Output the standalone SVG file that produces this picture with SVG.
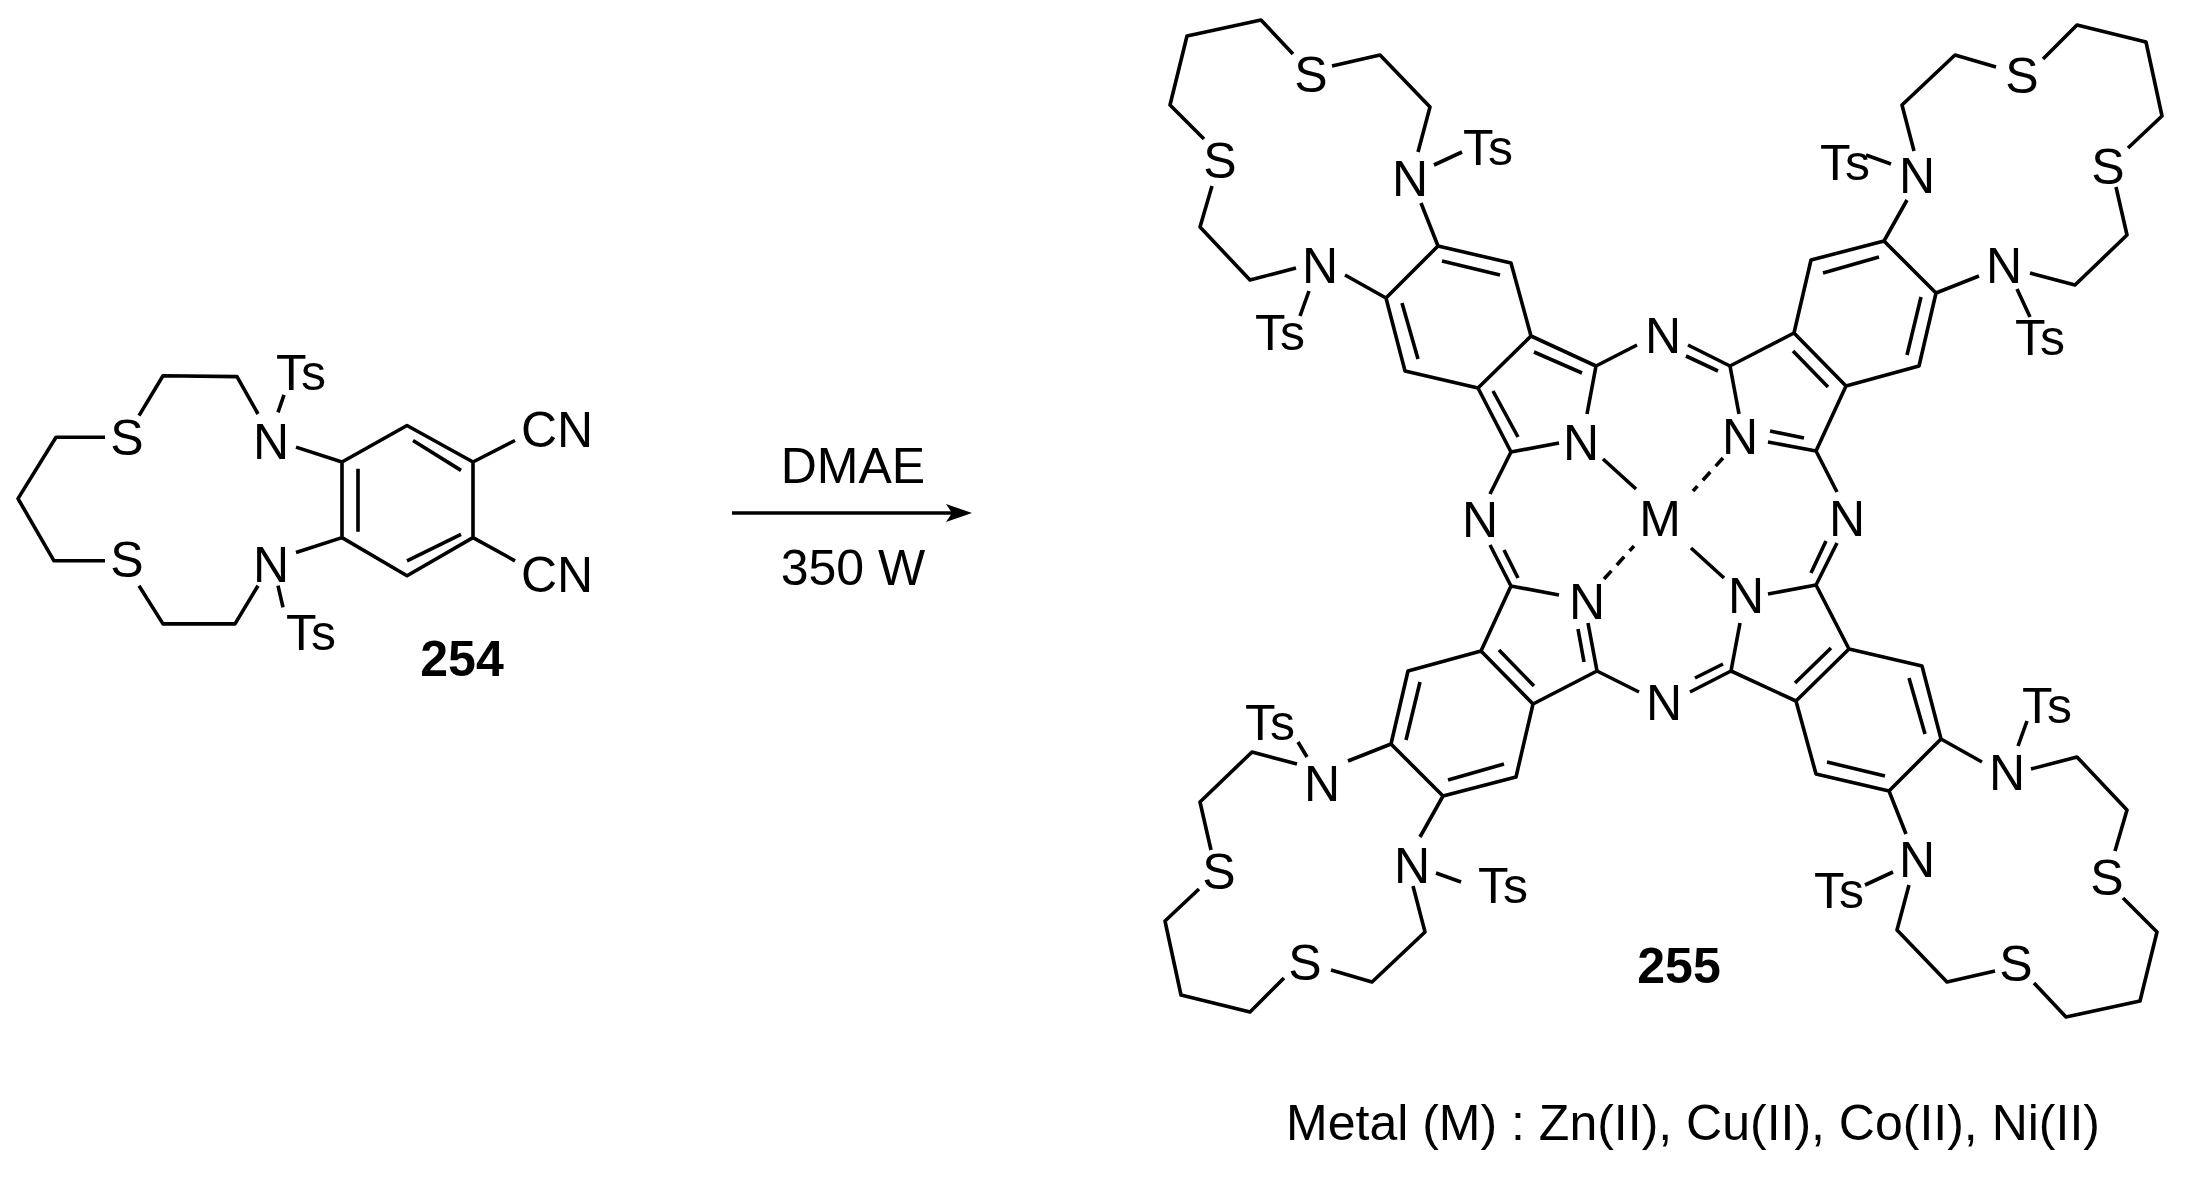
<svg xmlns="http://www.w3.org/2000/svg" xmlns:xlink="http://www.w3.org/1999/xlink" width="2185" height="1177" viewBox="0 0 2185 1177">
<style>
.b{fill:none;stroke:#000;stroke-width:3.6;stroke-linejoin:round;stroke-linecap:butt}
.d{fill:none;stroke:#000;stroke-width:3.6;stroke-dasharray:11 8}
text{font-family:"Liberation Sans",Arial,sans-serif;font-size:50px;fill:#000;text-anchor:middle}
.bold{font-weight:bold}
</style>
<defs>
<path id="q" class="b" d="M1293,54 L1261,20 L1187,36 L1170,105 L1204,139 M1332,66 L1380,55 L1430,107 L1418,152 M1212,186 L1200,227 L1250,280 L1296,268 M1309,291 L1300,316 M1421,203 L1438,246 M1345,275 L1386,298 M1438,246 L1511,263 L1531,336 L1478,388 L1405,371 L1386,298 Z M1442,261 L1500,275 M1402,303 L1418,359 M1531,336 L1596,366 L1587,414 M1559,443 L1511,452 L1478,388 M1596,366 L1637,345 M1688,345 L1730,366"/>
</defs>
<g id="compound254">
<path class="b" d="M407,425.5 L473,462 L473,537.6 L407,575.8 L342,537.6 L342,462 Z M358,468.7 L358,531.8 M413,440.5 L461,470.4 M407,560.8 L461,534.3 M473,462 L515,440.5 M473,537.6 L515,560.8 M296,447.1 L342,462 M296,552.5 L342,537.6 M278,412.3 L284,394.8 M278,585.7 L283,607.3 M258,414 L237,376.6 L163,375.7 L139,415.6 M105,437.2 L56,437.2 L18,498.6 L54,560.8 L105,560.8 M139,585.7 L163,623.9 L235,623.9 L258,585.7"/>
<text x="521" y="447" style="text-anchor:start">CN</text>
<text x="521" y="592" style="text-anchor:start">CN</text>
<text x="271" y="459">N</text>
<text x="271" y="582">N</text>
<text x="276" y="390" style="text-anchor:start">Ts</text>
<text x="286" y="650" style="text-anchor:start">Ts</text>
<text x="127" y="455">S</text>
<text x="127" y="577">S</text>
<text x="462" y="676" class="bold">254</text>
</g>
<g id="connectors">
<line class="b" x1="732" y1="513" x2="955" y2="513"/>
<polygon points="972,513 946,504 952,513 946,522" fill="#000"/>
<text x="853" y="483">DMAE</text>
<text x="853" y="585">350 W</text>
</g>
<g id="compound255">
<g id="quadTL">
<use xlink:href="#q"/>
<path class="b" d="M1434,165 L1462,152 M1534,352 L1582,373 M1493,391 L1518,437 M1686,356 L1718,371 M1603,459 L1636,489"/>
</g>
<g id="quadTR" transform="rotate(90 1663.5 518.5)">
<use xlink:href="#q"/>
<path class="b" d="M1434,165 L1462,152 M1532,354 L1496,389 M1583,378 L1576,412 M1686,356 L1718,371"/>
<path class="d" d="M1603,459 L1636,489"/>
</g>
<g id="quadBR" transform="rotate(180 1663.5 518.5)">
<use xlink:href="#q"/>
<path class="b" d="M1434,165 L1462,152 M1532,354 L1496,389 M1604,373 L1632,359 M1603,459 L1636,489"/>
</g>
<g id="quadBL" transform="rotate(270 1663.5 518.5)">
<use xlink:href="#q"/>
<path class="b" d="M1532,354 L1496,389 M1553,433 L1520,439 M1604,373 L1632,359"/>
<path class="d" d="M1603,459 L1636,489"/>
</g>
<path class="b" d="M1298,742 L1307,757"/>
<g id="labels255">
<text x="1660" y="536">M</text>
<text x="1311" y="92">S</text><text x="1220" y="178">S</text>
<text x="1410" y="196">N</text><text x="1320" y="283">N</text>
<text x="1488" y="165">Ts</text><text x="1280" y="350">Ts</text>
<text x="1581" y="460">N</text><text x="1663" y="353">N</text>
<text x="2108" y="184">S</text><text x="2022" y="93">S</text>
<text x="2004" y="283">N</text><text x="1917" y="193">N</text>
<text x="2040" y="355">Ts</text><text x="1845" y="180">Ts</text>
<text x="1740" y="454">N</text><text x="1847" y="536">N</text>
<text x="2016" y="981">S</text><text x="2107" y="895">S</text>
<text x="1917" y="877">N</text><text x="2007" y="790">N</text>
<text x="1839" y="908">Ts</text><text x="2047" y="723">Ts</text>
<text x="1746" y="613">N</text><text x="1664" y="720">N</text>
<text x="1219" y="889">S</text><text x="1305" y="980">S</text>
<text x="1322" y="801">N</text><text x="1412" y="883">N</text>
<text x="1270" y="740">Ts</text><text x="1503" y="903">Ts</text>
<text x="1587" y="619">N</text><text x="1480" y="537">N</text>
<text x="1679" y="983" class="bold">255</text>
<text x="1693" y="1140">Metal (M) : Zn(II), Cu(II), Co(II), Ni(II)</text>
</g>
</g>
</svg>
